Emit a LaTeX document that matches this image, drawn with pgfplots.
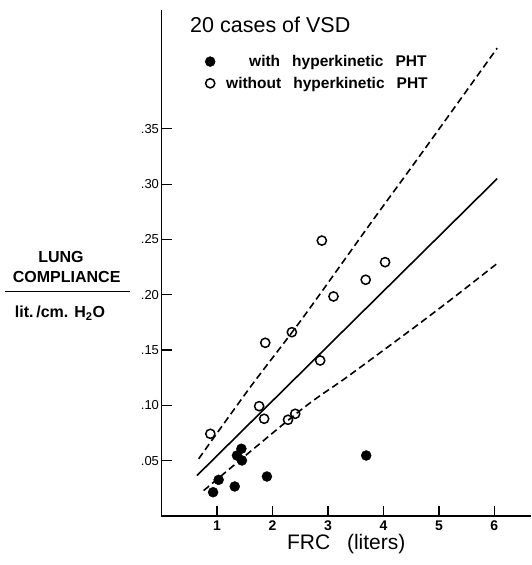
\documentclass[border=0pt]{standalone}
\usepackage{fontspec}
\setmainfont{Liberation Sans}
\usepackage{pgfplots}
\pgfplotsset{compat=1.18}

\begin{document}
\begin{tikzpicture}[x=1pt,y=1pt]
\useasboundingbox (-161.5,-49) rectangle (369.5,516);
\begin{axis}[
    at={(0,0)}, anchor=south west,
    scale only axis,
    width=369.5pt, height=506pt,
    xmin=0, xmax=6.66,
    ymin=0, ymax=0.4575,
    axis x line*=bottom, axis y line*=left,
    axis line style={line width=1.8pt, -},
    xtick={1,2,3,4,5,6},
    xticklabels={1,2,3,4,5,6},
    ytick={0.05,0.10,0.15,0.20,0.25,0.30,0.35},
    yticklabels={.05,.10,.15,.20,.25,.30,.35},
    tick align=inside,
    major tick length=10pt,
    tick style={line width=1.2pt, black},
    x tick label style={font=\fontsize{14}{14}\selectfont\bfseries, yshift=-1pt},
    y tick label style={font=\fontsize{13}{13}\selectfont, xshift=1pt},
    xlabel={FRC\hspace{0.8em}(liters)},
    xlabel style={font=\fontsize{21}{21}\selectfont, yshift=3pt},
    clip=false,
    legend cell align=left,
    legend style={draw=none, fill=none, at={(axis cs:0.73,0.4204)}, anchor=north west,
        font=\fontsize{15.5}{15.5}\selectfont\bfseries, row sep=5pt},
]

% with hyperkinetic PHT
\addplot[only marks, mark=*, mark size=5pt, black] coordinates {
    (0.93,0.0215) (1.03,0.0327) (1.32,0.0267) (1.36,0.0547)
    (1.44,0.0608) (1.45,0.0502) (1.90,0.0357) (3.69,0.0547)
};
\addlegendentry{\hspace{32pt}with\hspace{0.5em} hyperkinetic\hspace{0.5em} PHT}

% without hyperkinetic PHT
\addplot[only marks, mark=o, mark size=4.6pt, line width=1.5pt, black] coordinates {
    (0.88,0.0743) (1.76,0.0993) (1.85,0.0879) (1.87,0.1566)
    (2.28,0.0870) (2.35,0.1662) (2.41,0.0924) (2.86,0.1406)
    (2.89,0.2490) (3.10,0.1985) (3.68,0.2136) (4.03,0.2295)
};
\addlegendentry{\hspace{9pt}without\hspace{0.5em} hyperkinetic\hspace{0.5em} PHT}

% regression line
\addplot[black, line width=1.6pt, forget plot] coordinates {
    (0.64,0.0366) (6.05,0.305)
};

% confidence limits
\addplot[black, line width=1.6pt, dash pattern=on 7pt off 4pt, smooth, forget plot] coordinates {
    (0.67,0.0517) (1.60,0.1165) (2.53,0.1780) (3.76,0.2640) (4.66,0.3260) (6.05,0.4230)
};
\addplot[black, line width=1.6pt, dash pattern=on 7pt off 4pt, smooth, forget plot] coordinates {
    (0.76,0.0230) (2.50,0.0954) (3.34,0.1255) (4.48,0.1677) (5.20,0.1950) (6.05,0.2283)
};
\end{axis}

\node[anchor=west, font=\fontsize{21.5}{21.5}\selectfont] at (25.2,491)
    {20 cases of VSD};

\node[font=\fontsize{16}{16}\selectfont\bfseries] at (-100.5,259.3) {LUNG};
\node[font=\fontsize{16}{16}\selectfont\bfseries] at (-94.8,239.3) {COMPLIANCE};
\draw[line width=1.5pt] (-156.5,224.3) -- (-31.5,224.3);
\node[font=\fontsize{16}{16}\selectfont\bfseries] at (-101.5,203) {lit.\,/cm. H\textsubscript{2}O};
\end{tikzpicture}
\end{document}
